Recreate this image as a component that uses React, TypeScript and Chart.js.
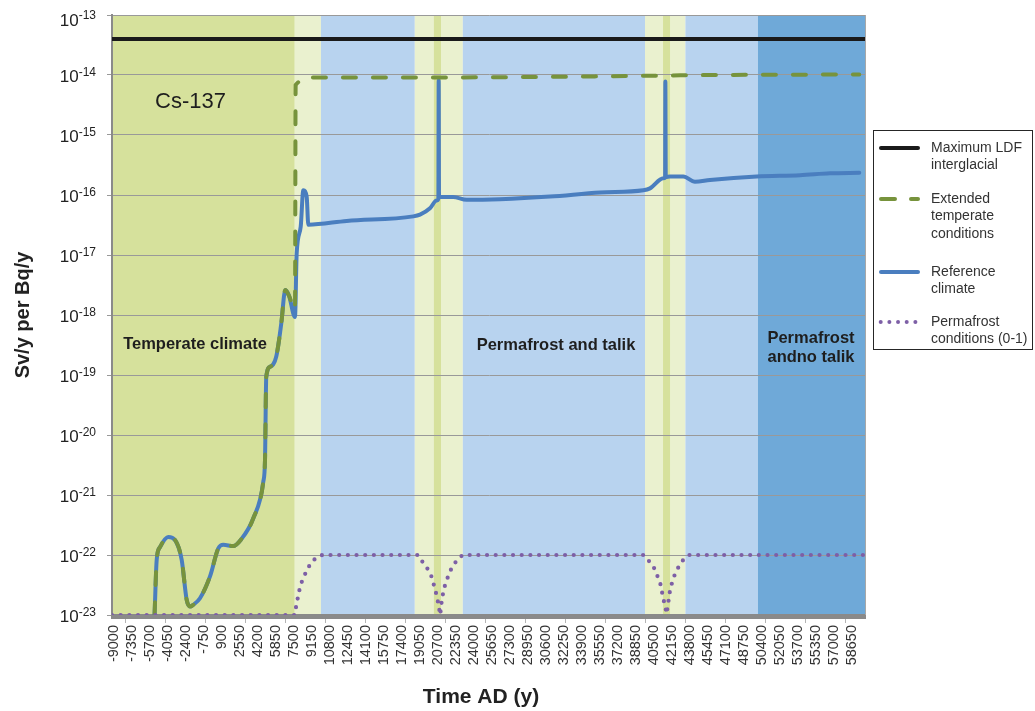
import React, { useEffect, useRef } from 'react';
import { Chart, registerables } from 'chart.js';

Chart.register(...registerables);

const FONT = "'Liberation Sans', Arial, Helvetica, sans-serif";

// ---------- axis data ----------
const xTickLabels = [
  -9000, -7350, -5700, -4050, -2400, -750, 900, 2550, 4200, 5850, 7500, 9150, 10800, 12450,
  14100, 15750, 17400, 19050, 20700, 22350, 24000, 25650, 27300, 28950, 30600, 32250, 33900,
  35550, 37200, 38850, 40500, 42150, 43800, 45450, 47100, 48750, 50400, 52050, 53700, 55350,
  57000, 58650,
];
const xMin = -9150;
const xMax = 59950;
const yTickExponents = [-23, -22, -21, -20, -19, -18, -17, -16, -15, -14, -13];

// ---------- series ----------
const maxLdfYears = [-9150, 59950];
const maxLdfValues = [4e-14, 4e-14];

const referenceYears = [
  -5250, -5054, -4751, -3991, -3377, -2763, -2305, -2002, -1700, -1086, -169, 591, 1049, 1966,
  2644, 3799, 4715, 4871, 4987, 5354, 5904, 6362, 6729, 7070, 7620, 7776, 8143, 8381, 8693,
  8840, 12358, 18461, 19075, 19991, 20600, 20760, 20790, 20820, 22118, 23346, 26402, 30988,
  35570, 39539, 40154, 41372, 41540, 41560, 41600, 41986, 43205, 44277, 45652, 49931, 53900,
  56649, 59334,
];
const referenceValues = [
  1e-23, 8.3e-23, 1.35e-22, 2.0e-22, 1.78e-22, 8.3e-23, 1.78e-23, 1.38e-23, 1.48e-23, 1.9e-23,
  4.4e-23, 1.29e-22, 1.48e-22, 1.41e-22, 1.78e-22, 4.1e-22, 1.66e-21, 3.8e-21, 9.3e-20, 1.38e-19,
  2.04e-19, 7.2e-19, 2.6e-18, 2.1e-18, 9.3e-19, 1.07e-17, 2.95e-17, 1.2e-16, 9.3e-17, 3.2e-17,
  3.7e-17, 4.4e-17, 4.7e-17, 6.0e-17, 8.1e-17, 8.7e-17, 8.1e-15, 9.3e-17, 9.3e-17, 8.3e-17,
  8.5e-17, 9.4e-17, 1.1e-16, 1.2e-16, 1.29e-16, 1.9e-16, 1.95e-16, 7.8e-15, 2.0e-16, 2.04e-16,
  2.04e-16, 1.66e-16, 1.78e-16, 2.04e-16, 2.14e-16, 2.3e-16, 2.35e-16,
];

const extendedYears = [
  -5250, -5054, -4751, -3991, -3377, -2763, -2305, -2002, -1700, -1086, -169, 591, 1049, 1966,
  2644, 3799, 4715, 4871, 4987, 5354, 5904, 6362, 6729, 7070, 7620, 7680, 8720, 8800, 20000,
  35570, 46200, 59334,
];
const extendedValues = [
  1e-23, 8.3e-23, 1.35e-22, 2.0e-22, 1.78e-22, 8.3e-23, 1.78e-23, 1.38e-23, 1.48e-23, 1.9e-23,
  4.4e-23, 1.29e-22, 1.48e-22, 1.41e-22, 1.78e-22, 4.1e-22, 1.66e-21, 3.8e-21, 9.3e-20, 1.38e-19,
  2.04e-19, 7.2e-19, 2.6e-18, 2.1e-18, 1.2e-18, 6.8e-15, 8.3e-15, 9.1e-15, 9.1e-15, 9.5e-15,
  1.0e-14, 1.02e-14,
];

const permafrostYears = [
  -9150, 7600, 7680, 7980, 8150, 8445, 8747, 9086, 9480, 9755, 10150, 18900, 19260, 19690, 20060,
  20270, 20480, 20660, 20935, 21000, 21250, 21490, 21730, 22070, 22490, 22990, 39575, 39970,
  40490, 40760, 41070, 41370, 41683, 42013, 42230, 42470, 42810, 43240, 43750, 59950,
];
const permafrostValues = [
  1e-23, 1e-23, 1.26e-23, 2.4e-23, 3.24e-23, 4.4e-23, 5.75e-23, 7.4e-23, 8.7e-23, 9.5e-23, 1e-22,
  1e-22, 7.9e-23, 6.2e-23, 4.8e-23, 3.55e-23, 2.6e-23, 1.9e-23, 1.0e-23, 1.4e-23, 2.7e-23,
  3.6e-23, 4.9e-23, 6.5e-23, 8.3e-23, 1e-22, 1e-22, 8.3e-23, 6.3e-23, 4.8e-23, 3.55e-23,
  1.9e-23, 1.05e-23, 2.75e-23, 3.7e-23, 5.0e-23, 6.5e-23, 8.5e-23, 1e-22, 1e-22,
];

// ---------- climate domains (background bands) ----------
const bandStarts = [-9150, 7600, 10000, 18600, 20350, 23000, 39700, 41350, 43400, 50050];
const bandEnds = [7600, 10000, 18600, 23000, 21000, 39700, 43400, 41990, 50050, 59950];
const bandKinds = ['temperate', 'transition', 'talik', 'transition', 'temperate', 'talik', 'transition', 'temperate', 'talik', 'notalik'];

const bandColors: Record<string, string> = {
  temperate: '#d6e19c',
  transition: '#eaf1cf',
  talik: '#b8d3ef',
  notalik: '#6fa9d8',
};

const legendItems = [
  { lines: ['Maximum LDF', 'interglacial'], kind: 'black' },
  { lines: ['Extended', 'temperate', 'conditions'], kind: 'green' },
  { lines: ['Reference', 'climate'], kind: 'blue' },
  { lines: ['Permafrost', 'conditions (0-1)'], kind: 'purple' },
];

const COLORS = {
  black: '#1a1a1a',
  green: '#77933c',
  blue: '#4a7ebf',
  purple: '#7d5fa6',
};

const bandPlugin = {
  id: 'bands',
  beforeDraw(chart: any) {
    const { ctx, chartArea, scales } = chart;
    const xs = scales.x;
    ctx.save();
    for (let i = 0; i < bandStarts.length; i++) {
      const l = Math.max(chartArea.left, xs.getPixelForValue(bandStarts[i]));
      const r = Math.min(chartArea.right, xs.getPixelForValue(bandEnds[i]));
      ctx.fillStyle = bandColors[bandKinds[i]];
      ctx.fillRect(l, chartArea.top, r - l, chartArea.bottom - chartArea.top);
    }
    ctx.restore();
  },
  beforeDatasetsDraw(chart: any) {
    const { ctx, chartArea } = chart;
    ctx.save();
    ctx.fillStyle = '#8a8a8a';
    ctx.fillRect(chartArea.left - 1, chartArea.bottom - 1, chartArea.right - chartArea.left + 1, 5);
    ctx.restore();
  },
};

const overlayPlugin = {
  id: 'overlay',
  afterDraw(chart: any) {
    const { ctx, chartArea, scales } = chart;
    const xs = scales.x;
    const ys = scales.y;
    ctx.save();

    // right frame line
    ctx.strokeStyle = '#a8a8a8';
    ctx.lineWidth = 1;
    ctx.beginPath();
    ctx.moveTo(chartArea.right - 0.5, chartArea.top);
    ctx.lineTo(chartArea.right - 0.5, chartArea.bottom);
    ctx.stroke();

    // small x tick marks
    ctx.strokeStyle = '#b4b4b4';
    ctx.beginPath();
    for (let v = -7960; v <= xMax; v += 3666) {
      const px = Math.round(xs.getPixelForValue(v)) + 0.5;
      ctx.moveTo(px, chartArea.bottom + 4);
      ctx.lineTo(px, chartArea.bottom + 8);
    }
    ctx.stroke();

    // y tick labels with superscript exponent
    ctx.fillStyle = '#222';
    ctx.textBaseline = 'alphabetic';
    ctx.textAlign = 'left';
    for (const e of yTickExponents) {
      let py = ys.getPixelForValue(Math.pow(10, e));
      if (e === yTickExponents[yTickExponents.length - 1]) py += 3.5;
      const sup = String(e);
      ctx.font = `12px ${FONT}`;
      const ws = ctx.measureText(sup).width;
      ctx.font = `17px ${FONT}`;
      const wb = ctx.measureText('10').width;
      const right = 96;
      ctx.fillText('10', right - ws - wb, py + 7.3);
      ctx.font = `12px ${FONT}`;
      ctx.fillText(sup, right - ws, py + 0.5);
    }

    // axis titles
    ctx.fillStyle = '#222';
    ctx.font = `bold 21px ${FONT}`;
    ctx.textAlign = 'center';
    ctx.textBaseline = 'middle';
    ctx.fillText('Time AD (y)', 481, 697);
    ctx.save();
    ctx.translate(23, (chartArea.top + chartArea.bottom) / 2);
    ctx.rotate(-Math.PI / 2);
    ctx.font = `bold 20px ${FONT}`;
    ctx.fillText('Sv/y per Bq/y', 0, 0);
    ctx.restore();

    // annotations inside plot
    ctx.fillStyle = '#1e1e1e';
    ctx.textAlign = 'left';
    ctx.textBaseline = 'middle';
    ctx.font = `22px ${FONT}`;
    ctx.fillText('Cs-137', 155, 102);
    ctx.font = `bold 16.5px ${FONT}`;
    ctx.textAlign = 'center';
    ctx.fillText('Temperate climate', 195, 344);
    ctx.fillText('Permafrost and talik', 556, 345);
    ctx.fillText('Permafrost', 811, 338);
    ctx.fillText('andno talik', 811, 357);

    // legend
    ctx.strokeStyle = '#262626';
    ctx.lineWidth = 1;
    ctx.strokeRect(873.5, 130.5, 159, 219);
    const sampleY = [148, 199, 272, 322];
    const lineH = 17.5;
    legendItems.forEach((item, i) => {
      const sy = sampleY[i];
      ctx.lineCap = 'round';
      if (item.kind === 'black' || item.kind === 'blue') {
        ctx.strokeStyle = COLORS[item.kind as 'black'];
        ctx.lineWidth = 4;
        ctx.beginPath();
        ctx.moveTo(881, sy);
        ctx.lineTo(918, sy);
        ctx.stroke();
      } else if (item.kind === 'green') {
        ctx.strokeStyle = COLORS.green;
        ctx.lineWidth = 4;
        ctx.beginPath();
        ctx.moveTo(881, sy);
        ctx.lineTo(895, sy);
        ctx.moveTo(911, sy);
        ctx.lineTo(918, sy);
        ctx.stroke();
      } else {
        ctx.fillStyle = COLORS.purple;
        for (let k = 0; k < 5; k++) {
          ctx.beginPath();
          ctx.arc(880.7 + k * 8.67, sy, 2, 0, Math.PI * 2);
          ctx.fill();
        }
      }
      ctx.fillStyle = '#333';
      ctx.font = `14px ${FONT}`;
      ctx.textAlign = 'left';
      ctx.textBaseline = 'middle';
      item.lines.forEach((t, j) => ctx.fillText(t, 931, sy + j * lineH));
    });

    ctx.restore();
  },
};

function pts(xsArr: number[], ysArr: number[]) {
  return xsArr.map((x, i) => ({ x, y: ysArr[i] }));
}

export default function App() {
  const canvasRef = useRef<HTMLCanvasElement>(null);

  useEffect(() => {
    const canvas = canvasRef.current;
    if (!canvas) return;
    const chart = new Chart(canvas, {
      type: 'line',
      data: {
        datasets: [
          {
            label: 'Permafrost conditions (0-1)',
            data: pts(permafrostYears, permafrostValues),
            borderColor: COLORS.purple,
            borderWidth: 4.2,
            borderDash: [0, 8.67],
            borderCapStyle: 'round',
            pointRadius: 0,
            tension: 0,
            fill: false,
          },
          {
            label: 'Extended temperate conditions',
            data: pts(extendedYears, extendedValues),
            borderColor: COLORS.green,
            borderWidth: 4,
            borderDash: [13, 17],
            borderCapStyle: 'round',
            pointRadius: 0,
            cubicInterpolationMode: 'monotone',
            fill: false,
          },
          {
            label: 'Reference climate',
            data: pts(referenceYears, referenceValues),
            borderColor: COLORS.blue,
            borderWidth: 4,
            borderJoinStyle: 'round',
            borderCapStyle: 'round',
            pointRadius: 0,
            cubicInterpolationMode: 'monotone',
            fill: false,
          },
          {
            label: 'Maximum LDF interglacial',
            data: pts(maxLdfYears, maxLdfValues),
            borderColor: COLORS.black,
            borderWidth: 4,
            pointRadius: 0,
            fill: false,
          },
        ],
      } as any,
      options: {
        responsive: false,
        animation: false,
        events: [],
        layout: { padding: { left: 0, right: 169, top: 15, bottom: 0 } },
        plugins: {
          legend: { display: false },
          tooltip: { enabled: false },
        },
        scales: {
          x: {
            type: 'linear',
            min: xMin,
            max: xMax,
            afterBuildTicks: (s: any) => {
              s.ticks = xTickLabels.map((v) => ({ value: v }));
            },
            afterFit: (s: any) => {
              s.height = 96;
            },
            grid: { display: false, drawTicks: false },
            border: { display: false },
            ticks: {
              autoSkip: false,
              minRotation: 90,
              maxRotation: 90,
              padding: 10,
              color: '#333',
              font: { family: FONT, size: 14.5 },
              callback: (v: any) => String(v),
            },
          },
          y: {
            type: 'logarithmic',
            min: 1e-23,
            max: 1e-13,
            afterBuildTicks: (s: any) => {
              s.ticks = yTickExponents.map((e) => ({ value: Math.pow(10, e) }));
            },
            afterFit: (s: any) => {
              s.width = 112;
            },
            grid: { color: '#999999', lineWidth: 1, drawTicks: true, tickLength: 5, tickColor: '#999999' },
            border: { display: true, color: '#8a8a8a', width: 2 },
            ticks: { display: false },
          },
        },
      } as any,
      plugins: [bandPlugin, overlayPlugin],
    });
    return () => chart.destroy();
  }, []);

  return (
    <div style={{ position: 'absolute', left: 0, top: 0, width: 1035, height: 711, background: '#fff' }}>
      <canvas ref={canvasRef} width={1035} height={711} style={{ display: 'block' }} />
    </div>
  );
}
